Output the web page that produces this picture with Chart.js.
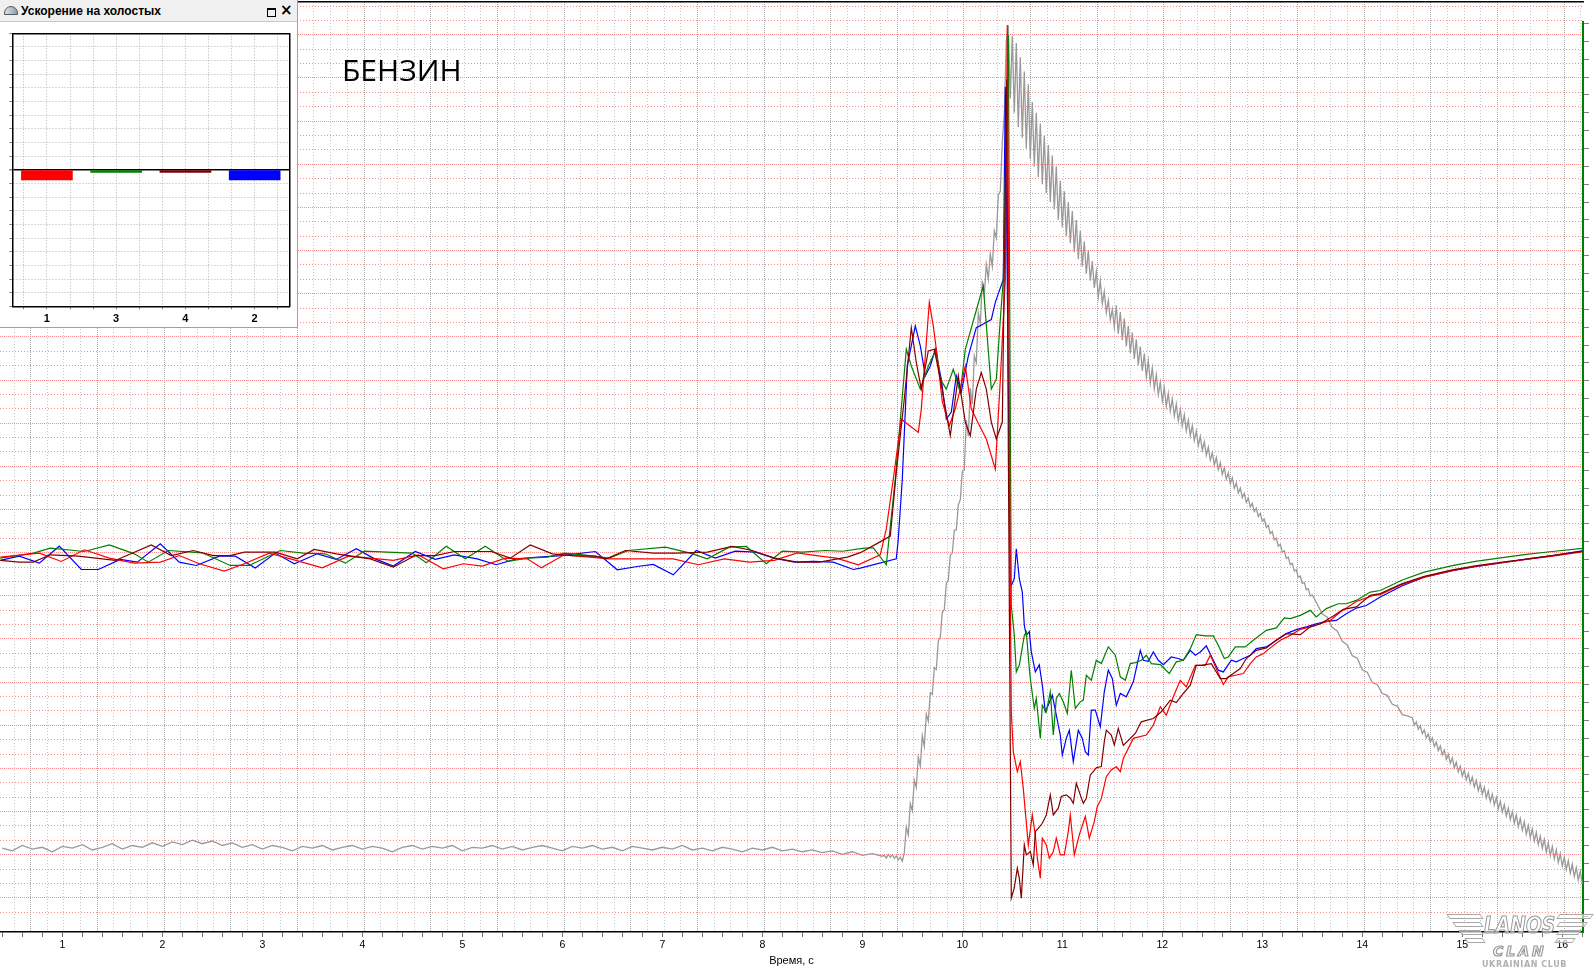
<!DOCTYPE html>
<html>
<head>
<meta charset="utf-8">
<script src="https://cdn.jsdelivr.net/npm/chart.js@4.4.1/dist/chart.umd.min.js"></script>
<style>
  html, body { margin: 0; padding: 0; background: #fff; }
  body { width: 1595px; height: 970px; position: relative; overflow: hidden; font-family: "Liberation Sans", Arial, sans-serif; }
  #main { position: absolute; left: 0; top: 0; }
  #fuel { position: absolute; left: 342px; top: 55px; font: 30px/30px "Open Sans", sans-serif; color: #000; }
  #panel { position: absolute; left: 0; top: 0; width: 297px; height: 327px; background: #fff;
           border-right: 1px solid #a0a0a0; border-bottom: 1px solid #a0a0a0; }
  #panel .bar { position: absolute; left: 0; top: 0; width: 297px; height: 21px; background: #f0f0f0; border-bottom: 1px solid #c8c8c8; }
  #panel .gauge { position: absolute; left: 4px; top: 6px; width: 12px; height: 7px; border: 1px solid #555;
                  border-radius: 8px 8px 0 0; background: linear-gradient(90deg, #d8e4ee, #8aa0b4); }
  #panel .title { position: absolute; left: 21px; top: 4px; font: bold 12px/14px "Liberation Sans", Arial, sans-serif; color: #000; white-space: nowrap; }
  #panel .sq { position: absolute; left: 267px; top: 8px; width: 7px; height: 6px; border: 1px solid #000; border-top-width: 2px; }
  #panel .cl { position: absolute; left: 280px; top: 2px; font: bold 15px/16px "DejaVu Sans", sans-serif; color: #000; }
  #inset { position: absolute; left: 0; top: 23px; }
  #logo div { position: absolute; white-space: nowrap; }
  #logo .t { color: rgba(255,255,255,0.6); -webkit-text-stroke: 1.2px #9a9a9a; font-family: "DejaVu Sans", sans-serif; font-weight: bold; font-style: italic; }
  #logo .l1 { left: 1484px; top: 912px; font-size: 23px; transform: scaleX(0.81); transform-origin: left top; }
  #logo .l2 { left: 1493px; top: 943px; font-size: 14px; letter-spacing: 3px; }
  #logo .l3 { left: 1482px; top: 960px; font: bold 8px "DejaVu Sans", sans-serif; color: #b0b0b0; letter-spacing: 0.6px; }
  #logo .w { height: 3px; border: 1px solid #a8a8a8; background: rgba(255,255,255,0.6); }
  #logo .wl { transform: skewX(35deg); }
  #logo .wr { transform: skewX(-35deg); }
</style>
</head>
<body>
<canvas id="main" width="1595" height="970"></canvas>
<div id="fuel">БЕНЗИН</div>
<div id="panel">
  <div class="bar"></div>
  <div class="gauge"></div>
  <div class="title">Ускорение на холостых</div>
  <div class="sq"></div>
  <div class="cl">×</div>
  <canvas id="inset" width="297" height="306"></canvas>
</div>
<div id="logo">
  <div class="w wl" style="left:1448px;top:914px;width:32px"></div>
  <div class="w wl" style="left:1454px;top:922px;width:26px"></div>
  <div class="w wl" style="left:1460px;top:930px;width:20px"></div>
  <div class="w wl" style="left:1466px;top:938px;width:16px"></div>
  <div class="w wr" style="left:1558px;top:914px;width:32px"></div>
  <div class="w wr" style="left:1558px;top:922px;width:26px"></div>
  <div class="w wr" style="left:1558px;top:930px;width:20px"></div>
  <div class="w wr" style="left:1556px;top:938px;width:16px"></div>
  <div class="t l1">LANOS</div><div class="t l2">CLAN</div><div class="l3">UKRAINIAN CLUB</div>
</div>
<script>
// per-cylinder acceleration, [time s, value]
const cyl1 = [[0.38,-0.31],[0.77,-0.03],[0.99,-0.61],[1.22,0.2],[1.47,-0.38],[1.72,-0.73],[1.98,-0.66],[2.17,-0.2],[2.37,-0.77],[2.62,-1.28],[2.82,-0.77],[3.07,-0.03],[3.3,-0.47],[3.6,-1.05],[3.86,-0.24],[4.08,-0.38],[4.31,-0.54],[4.56,-0.15],[4.81,-1.12],[5.01,-0.77],[5.2,-0.94],[5.43,-0.38],[5.65,-0.43],[5.79,-1.05],[6.02,-0.15],[6.27,-0.31],[6.47,-0.43],[7.11,-0.43],[7.36,-0.84],[7.62,-0.43],[7.87,-0.66],[8.12,-0.54],[8.35,-0.01],[8.54,-0.2],[8.74,-0.38],[8.96,-0.84],[9.18,-0.15],[9.24,1.65],[9.31,5.12],[9.39,9.28],[9.56,8.36],[9.59,9.98],[9.67,17.4],[9.71,15.76],[9.74,14.14],[9.8,10.5],[9.87,8.82],[9.93,10.0],[9.98,11.37],[10.03,12.98],[10.09,10.0],[10.16,9.0],[10.24,7.9],[10.33,5.82],[10.38,12.0],[10.43,19.0],[10.45,36.68],[10.48,-2.74],[10.49,-11.06],[10.51,-13.83],[10.55,-15.22],[10.58,-14.53],[10.61,-16.4],[10.63,-18.0],[10.66,-20.32],[10.7,-18.23],[10.73,-19.62],[10.75,-21.24],[10.78,-22.63],[10.8,-19.85],[10.84,-20.32],[10.87,-21.24],[10.91,-20.78],[10.94,-19.85],[10.98,-21.01],[11.02,-21.01],[11.06,-19.39],[11.08,-18.23],[11.12,-21.01],[11.17,-19.62],[11.23,-18.34],[11.27,-19.85],[11.32,-18.7],[11.35,-17.65],[11.39,-17.1],[11.44,-15.57],[11.49,-15.1],[11.54,-14.87],[11.58,-15.22],[11.61,-14.3],[11.71,-12.91],[11.84,-12.68],[11.91,-11.99],[11.98,-10.71],[12.04,-11.3],[12.11,-10.02],[12.18,-8.87],[12.24,-9.33],[12.33,-7.83],[12.43,-7.83],[12.48,-7.13],[12.54,-8.06],[12.61,-9.17],[12.66,-8.63],[12.73,-8.52],[12.81,-8.4],[12.88,-7.71],[12.94,-7.25],[13.01,-7.02],[13.08,-6.62],[13.18,-6.09],[13.28,-5.75],[13.38,-5.33],[13.48,-5.16],[13.58,-4.94],[13.68,-4.71],[13.78,-4.12],[13.94,-3.39],[14.11,-2.97],[14.18,-2.92],[14.4,-2.2],[14.62,-1.7],[14.9,-1.25],[15.13,-0.95],[15.4,-0.7],[15.64,-0.47],[15.9,-0.25],[16.2,0.05]];
const cyl3 = [[0.38,-0.38],[0.71,-0.03],[0.88,0.31],[1.22,0.08],[1.47,0.54],[1.72,-0.08],[1.86,-0.66],[2.06,0.15],[2.4,-0.01],[2.68,-0.89],[2.87,-0.89],[3.18,0.15],[3.41,-0.03],[3.63,-0.08],[3.83,-0.73],[4.02,0.1],[4.25,0.04],[4.5,-0.03],[4.64,-0.7],[4.84,0.45],[5.03,-0.43],[5.23,0.45],[5.46,-0.61],[5.65,-0.38],[5.85,-0.31],[6.02,-0.03],[6.21,-0.15],[6.47,-0.38],[6.66,0.15],[7.03,0.38],[7.28,-0.03],[7.45,-0.43],[7.67,0.38],[7.84,0.43],[8.04,-0.77],[8.2,0.1],[8.4,0.04],[8.63,0.15],[8.8,0.1],[9.02,0.31],[9.11,0.34],[9.24,-0.84],[9.27,1.19],[9.33,5.12],[9.44,14.14],[9.49,12.98],[9.58,11.37],[9.66,12.98],[9.74,14.14],[9.78,12.06],[9.84,11.37],[9.91,12.75],[9.98,11.13],[10.03,14.14],[10.18,17.84],[10.21,18.53],[10.29,11.37],[10.34,12.06],[10.38,16.22],[10.41,19.0],[10.46,36.0],[10.49,-3.67],[10.52,-5.75],[10.54,-8.29],[10.57,-7.83],[10.62,-5.75],[10.64,-5.51],[10.67,-8.06],[10.68,-8.75],[10.72,-10.83],[10.74,-10.14],[10.78,-12.91],[10.8,-10.6],[10.84,-11.06],[10.88,-9.67],[10.91,-12.68],[10.94,-10.14],[10.97,-9.79],[11.01,-10.37],[11.05,-11.18],[11.09,-8.17],[11.13,-10.83],[11.18,-10.37],[11.21,-10.25],[11.24,-8.52],[11.29,-8.87],[11.34,-7.48],[11.39,-7.71],[11.46,-6.55],[11.53,-7.13],[11.58,-8.63],[11.63,-8.87],[11.68,-7.71],[11.73,-7.64],[11.79,-7.48],[11.84,-7.13],[11.89,-7.71],[11.98,-7.78],[12.07,-8.4],[12.14,-7.59],[12.21,-7.48],[12.28,-6.67],[12.34,-5.7],[12.43,-5.79],[12.51,-5.79],[12.56,-6.44],[12.62,-7.36],[12.66,-7.25],[12.73,-6.55],[12.83,-6.55],[12.91,-6.09],[13.04,-5.4],[13.14,-5.23],[13.22,-4.54],[13.28,-4.59],[13.38,-4.36],[13.48,-4.01],[13.54,-4.47],[13.64,-3.89],[13.76,-3.55],[13.84,-3.55],[13.94,-3.32],[14.08,-2.74],[14.18,-2.63],[14.4,-1.9],[14.62,-1.35],[14.9,-0.9],[15.13,-0.6],[15.4,-0.35],[15.64,-0.12],[15.9,0.08],[16.2,0.3]];
const cyl4 = [[0.38,-0.54],[0.57,-0.66],[0.71,-0.66],[0.88,-0.15],[1.16,-0.24],[1.53,-0.54],[1.89,0.54],[2.09,-0.2],[2.31,0.15],[2.51,-0.2],[2.68,-0.2],[2.82,0.04],[3.13,0.04],[3.35,-0.43],[3.52,0.22],[3.74,-0.08],[4.08,-0.43],[4.31,-1.0],[4.53,-0.2],[4.73,-0.2],[4.92,0.08],[5.29,0.08],[5.48,-0.38],[5.68,0.54],[5.9,-0.08],[6.1,-0.2],[6.33,-0.24],[6.44,-0.43],[6.63,0.15],[6.91,-0.03],[7.14,-0.03],[7.45,0.04],[7.7,0.43],[7.9,0.15],[8.12,-0.38],[8.35,-0.66],[8.57,-0.66],[8.85,-0.31],[8.98,0.0],[9.16,0.68],[9.28,1.15],[9.34,5.6],[9.42,10.7],[9.49,15.64],[9.54,13.22],[9.59,11.37],[9.66,14.02],[9.72,14.14],[9.78,12.06],[9.88,8.13],[9.96,12.29],[10.03,9.08],[10.08,8.13],[10.14,11.37],[10.19,12.52],[10.24,11.37],[10.29,9.08],[10.34,7.9],[10.4,9.08],[10.445,32.9],[10.46,7.32],[10.49,-24.02],[10.52,-23.3],[10.55,-21.94],[10.57,-22.63],[10.59,-24.02],[10.62,-20.32],[10.64,-21.01],[10.68,-20.78],[10.71,-21.71],[10.73,-19.39],[10.76,-19.16],[10.8,-18.81],[10.84,-18.23],[10.88,-16.84],[10.91,-18.23],[10.96,-17.76],[10.99,-16.95],[11.04,-16.84],[11.08,-17.07],[11.11,-17.42],[11.14,-16.03],[11.18,-16.84],[11.21,-17.42],[11.24,-17.07],[11.28,-15.45],[11.31,-15.22],[11.34,-14.95],[11.39,-14.87],[11.42,-13.14],[11.44,-12.34],[11.49,-12.68],[11.52,-13.37],[11.56,-12.22],[11.61,-13.4],[11.73,-12.57],[11.79,-11.76],[11.91,-11.53],[11.99,-11.06],[12.08,-10.26],[12.14,-10.42],[12.21,-9.79],[12.28,-9.21],[12.34,-7.83],[12.39,-7.83],[12.49,-7.71],[12.53,-8.17],[12.58,-8.75],[12.64,-8.75],[12.71,-8.4],[12.78,-8.06],[12.84,-7.36],[12.94,-6.79],[13.04,-6.62],[13.14,-6.09],[13.24,-5.63],[13.38,-5.7],[13.48,-5.16],[13.58,-4.94],[13.71,-4.4],[13.81,-3.94],[13.94,-3.77],[14.08,-2.97],[14.18,-2.85],[14.4,-2.15],[14.62,-1.65],[14.9,-1.2],[15.13,-0.92],[15.4,-0.66],[15.64,-0.45],[15.9,-0.2],[16.2,0.1]];
const cyl2 = [[0.38,-0.54],[0.57,-0.24],[0.77,-0.73],[0.97,0.45],[1.19,-1.17],[1.36,-1.17],[1.58,-0.47],[1.75,-0.66],[1.98,0.61],[2.17,-0.66],[2.34,-0.89],[2.57,-0.24],[2.73,-0.24],[2.93,-1.07],[3.13,-0.03],[3.32,-0.77],[3.55,-0.08],[3.74,-0.47],[3.94,0.27],[4.11,-0.38],[4.31,-0.93],[4.53,0.08],[4.73,-0.47],[4.92,-0.15],[5.15,-0.43],[5.34,-0.84],[5.54,-0.43],[5.76,-0.31],[5.99,-0.2],[6.33,0.08],[6.55,-1.19],[6.75,-0.96],[6.91,-0.82],[7.11,-1.54],[7.34,0.15],[7.53,-0.38],[7.73,0.1],[7.93,0.04],[8.12,-0.38],[8.32,-0.66],[8.51,-0.61],[8.71,-0.66],[8.91,-1.17],[8.98,-1.07],[9.34,-0.43],[9.36,0.96],[9.4,5.12],[9.45,13.0],[9.53,15.76],[9.58,14.37],[9.63,12.29],[9.68,12.98],[9.73,14.14],[9.79,12.06],[9.84,9.28],[9.89,9.77],[9.94,12.29],[9.99,11.16],[10.06,13.67],[10.14,15.64],[10.21,15.9],[10.29,16.2],[10.33,17.4],[10.41,19.0],[10.43,32.38],[10.48,-2.04],[10.49,-2.28],[10.52,-1.81],[10.54,0.27],[10.57,-1.81],[10.6,-2.74],[10.62,-5.05],[10.64,-5.75],[10.67,-5.49],[10.69,-6.9],[10.73,-8.29],[10.77,-7.8],[10.8,-9.21],[10.83,-11.06],[10.87,-10.44],[10.9,-9.91],[10.94,-11.3],[10.98,-12.68],[11.0,-14.07],[11.04,-12.91],[11.07,-12.34],[11.11,-14.53],[11.16,-12.34],[11.2,-12.91],[11.23,-13.83],[11.26,-14.07],[11.29,-10.95],[11.33,-10.95],[11.38,-12.1],[11.42,-9.67],[11.46,-8.17],[11.5,-8.75],[11.54,-10.6],[11.58,-9.79],[11.64,-10.02],[11.71,-8.98],[11.78,-6.79],[11.81,-7.48],[11.86,-7.55],[11.91,-6.9],[11.96,-7.48],[12.01,-7.78],[12.09,-7.25],[12.16,-7.36],[12.21,-7.48],[12.28,-6.79],[12.33,-7.13],[12.38,-6.9],[12.44,-6.48],[12.51,-7.48],[12.56,-8.17],[12.61,-8.29],[12.69,-7.48],[12.74,-7.59],[12.81,-7.36],[12.88,-7.13],[12.94,-6.67],[13.04,-6.55],[13.14,-6.09],[13.24,-5.63],[13.34,-5.35],[13.44,-5.16],[13.54,-4.94],[13.64,-4.78],[13.74,-4.71],[13.84,-4.24],[13.94,-3.85],[14.04,-3.67],[14.18,-3.08],[14.4,-2.3],[14.62,-1.7],[14.9,-1.25],[15.13,-0.98],[15.4,-0.7],[15.64,-0.45],[15.9,-0.2],[16.2,0.13]];

// engine speed, rpm, sampled at fixed steps
const rpmIdle = [785,770,800,780,790,765,795,785,805,775, 790,810,780,800,790,815,795,820,805,830, 810,825,800,815,790,805,780,800,790,770, 795,785,800,775,790,800,780,795,785,765, 790,800,780,795,785,800,770,790,785,800, 780,795,775,790,800,785,770,795,785,800, 780,790,770,795,785,775,790,780,800,775, 785,770,790,780,765,785,775,790,770,780, 765,775,760,770,750,765,745,755,740];
const rpmRise = [745,730,750,735,748,728,742,720,735,712, 760,905,860,1035,995,1165,1125,1295,1245,1415, 1355,1535,1495,1655,1645,1795,1785,1945,1965,2105, 2120,2265,2285,2425,2435,2565,2565,2705,2735,2895, 2900,3180,3090,3360,3270,3540,3500,3780,3720,3960, 3880,4050,3970,4110,4040,4240,4200,4440,4460,4740, 4890,5300];
const rpmFall = [5390,4980,5330,4900,5290,4820,5210,4760,5130,4700, 5060,4640,4960,4600,4900,4540,4840,4500,4770,4450, 4720,4400,4660,4360,4600,4300,4520,4260,4460,4210, 4400,4170,4350,4120,4300,4080,4240,4040,4180,4000, 4130,3960,4070,3920,4010,3870,3960,3830,3900,3780, 3850,3740,3800];
const rpmBand = [3700,3822,3663,3785,3627,3748,3592,3708,3556,3670, 3522,3632,3488,3592,3455,3553,3422,3512,3388,3472, 3355,3433,3322,3392,3287,3360,3258,3330,3230,3300, 3203,3270,3175,3240,3148,3210,3120,3180,3093,3150, 3066,3119,3038,3089,3011,3059,2984,3028,2956,2998, 2928,2970,2902,2942,2876,2913,2850,2885,2824,2857, 2798,2829,2772,2800,2746,2771,2720,2743,2694,2715, 2668,2687,2641,2659,2615,2627,2580,2592,2545,2557, 2510,2521,2475,2486,2440,2450,2406,2414,2371,2379, 2336,2343,2301,2308,2266,2272,2231,2237,2196,2202];
const rpmSlope = [2150,2095,2078,2020,2000,1942,1922,1862,1848,1782, 1770,1712,1700,1650,1640,1590,1580,1532,1525];
const rpmTail = [1515,1473,1492,1450,1470,1426,1446,1402,1424,1379, 1402,1354,1379,1331,1357,1307,1334,1283,1311,1260, 1289,1235,1266,1212,1244,1188,1222,1168,1203,1147, 1183,1127,1165,1107,1145,1087,1126,1066,1106,1046, 1087,1026,1068,1006,1048,986,1029,965,1009,945, 990,925,971,905,951,885,932,864,912,844, 893,825,873,805,853,785,834,764,814,744, 795,725,775,705,755,685,735,665,715,645, 696,626,676,606,656,586];

// inset bar chart
const barCats = ['1', '3', '4', '2'];
const barVals = [-0.75, -0.2, -0.2, -0.75];
const barColors = ['#ff0000', '#008000', '#800000', '#0000ff'];

const T0 = 0.377, T1 = 16.207;
const Y0 = -26.37, Y1 = 38.28;
const R0 = 316, R1 = 5408;

function pts(pairs) { return pairs.map(p => ({ x: p[0], y: p[1] })); }
function run(vals, start, step) { return vals.map((v, i) => ({ x: +(start + i * step).toFixed(3), y: v })); }

const rpm = [].concat(
    run(rpmIdle, 0.4, 0.1),
    run(rpmRise, 9.22, 0.02),
    run(rpmFall, 10.46, 0.02),
    run(rpmBand, 11.52, 0.02),
    run(rpmSlope, 13.55, 0.05),
    run(rpmTail, 14.5, 0.02)
);

function line(data, color, axis, width) {
    return { data: data, borderColor: color, borderWidth: width || 1.2, pointRadius: 0, tension: 0, fill: false, yAxisID: axis || 'y' };
}
function setTicks(list) { return s => { s.ticks = list.map(v => ({ value: v })); }; }
function range(a, b, step) { const r = []; for (let k = a; k <= b; k++) r.push(+(k * step).toFixed(4)); return r; }

const font = { family: 'Liberation Sans', size: 10.5 };
const hidden = { display: true, ticks: { display: false }, border: { display: false } };

new Chart(document.getElementById('main'), {
    type: 'line',
    data: {
        datasets: [
            line(pts(cyl4), '#800000'),
            line(pts(cyl1), '#ff0000'),
            line(pts(cyl3), '#008000'),
            line(pts(cyl2), '#0000ff'),
            line(rpm, '#999999', 'y2', 1.3)
        ]
    },
    options: {
        responsive: false,
        animation: false,
        events: [],
        layout: { padding: { left: 0, top: 2, right: 6, bottom: 2.2 } },
        plugins: { legend: { display: false }, tooltip: { enabled: false } },
        scales: {
            x: {
                type: 'linear', position: 'bottom', min: T0, max: T1, bounds: 'data',
                afterBuildTicks: setTicks(range(2, 81, 0.2)),
                grid: { drawOnChartArea: false, tickLength: 5, tickColor: '#707070' },
                border: { color: '#000', width: 1.5 },
                ticks: {
                    autoSkip: false, maxRotation: 0, padding: 2, color: '#000', font: font,
                    callback: v => Math.abs(v - Math.round(v)) < 1e-6 ? String(Math.round(v)) : ''
                },
                title: { display: true, text: 'Время, с', color: '#000', font: { family: 'Liberation Sans', size: 11 }, padding: { top: 1, bottom: 0 } }
            },
            xg: Object.assign({}, hidden, {
                type: 'linear', position: 'bottom', min: T0, max: T1, bounds: 'data',
                afterBuildTicks: setTicks(range(3, 97, 1).map(k => +(k / 6 + 0.017).toFixed(4))),
                grid: {
                    drawTicks: false,
                    color: c => Math.round((c.tick.value - 0.017) * 6) % 4 === 0 ? '#a8a8a8' : '#c6c6c6'
                },
                border: { display: false, dash: c => Math.round((c.tick.value - 0.017) * 6) % 4 === 0 ? [1, 1] : [1, 2] }
            }),
            xt: {
                type: 'linear', position: 'top', display: true,
                ticks: { display: false },
                grid: { drawOnChartArea: false, drawTicks: false },
                border: { color: '#000', width: 1.5 }
            },
            y: { type: 'linear', position: 'left', min: Y0, max: Y1, display: false },
            yg: Object.assign({}, hidden, {
                type: 'linear', position: 'left', min: Y0, max: Y1, bounds: 'data',
                afterBuildTicks: setTicks(range(-25, 38, 1)),
                grid: { drawTicks: false, color: '#ff8c8c' },
                border: { display: false, dash: c => (((c.tick.value % 3) + 3) % 3 === 0) ? [1, 1] : [1, 2] }
            }),
            y2top: {
                type: 'linear', position: 'right', stack: 'rpm', stackWeight: 20, display: true,
                ticks: { display: false },
                grid: { drawOnChartArea: false, drawTicks: false },
                border: { display: false }
            },
            y2: {
                type: 'linear', position: 'right', stack: 'rpm', stackWeight: 912, min: R0, max: R1, bounds: 'data',
                afterBuildTicks: setTicks(range(4, 54, 100)),
                ticks: { display: false },
                grid: { drawOnChartArea: false, tickLength: 6, tickColor: '#808080' },
                border: { color: '#008000', width: 2 }
            }
        }
    }
});

// inset: idle acceleration per cylinder
new Chart(document.getElementById('inset'), {
    type: 'bar',
    data: {
        datasets: [{
            data: barVals.map((v, i) => ({ x: i, y: v })),
            backgroundColor: barColors,
            borderWidth: 0,
            barThickness: 51
        }]
    },
    options: {
        responsive: false,
        animation: false,
        events: [],
        layout: { padding: { left: 9.3, top: 10.3, right: 7.7, bottom: 0.5 } },
        plugins: { legend: { display: false }, tooltip: { enabled: false } },
        scales: {
            x: {
                type: 'linear', min: -0.5, max: 3.5, bounds: 'data', offset: false,
                afterBuildTicks: setTicks(range(-1, 10, 1).map(k => +(k / 3).toFixed(4))),
                grid: { offset: false, color: '#b4b4b4', tickLength: 3, tickColor: '#808080' },
                border: { color: '#000', width: 1.5, dash: [1, 2] },
                ticks: {
                    autoSkip: false, maxRotation: 0, padding: 3, color: '#000',
                    font: { family: 'Liberation Sans', size: 11, weight: 'bold' },
                    callback: v => Math.abs(v - Math.round(v)) < 1e-6 ? barCats[Math.round(v)] : ''
                }
            },
            xt: {
                type: 'linear', position: 'top', display: true,
                ticks: { display: false },
                grid: { drawOnChartArea: false, drawTicks: false },
                border: { color: '#000', width: 1.5 }
            },
            y: {
                type: 'linear', min: -10, max: 10, bounds: 'data',
                afterBuildTicks: setTicks(range(-10, 10, 1)),
                ticks: { display: false },
                grid: {
                    tickLength: 3, tickColor: '#808080',
                    color: c => c.tick.value === 0 ? '#000' : '#b4b4b4',
                    lineWidth: c => c.tick.value === 0 ? 1.5 : 1
                },
                border: { color: '#000', width: 1.5, dash: c => c.tick && c.tick.value === 0 ? [] : [1, 2] }
            },
            yr: {
                type: 'linear', position: 'right', display: true,
                ticks: { display: false },
                grid: { drawOnChartArea: false, drawTicks: false },
                border: { color: '#000', width: 1.5 }
            }
        }
    }
});
</script>
</body>
</html>
